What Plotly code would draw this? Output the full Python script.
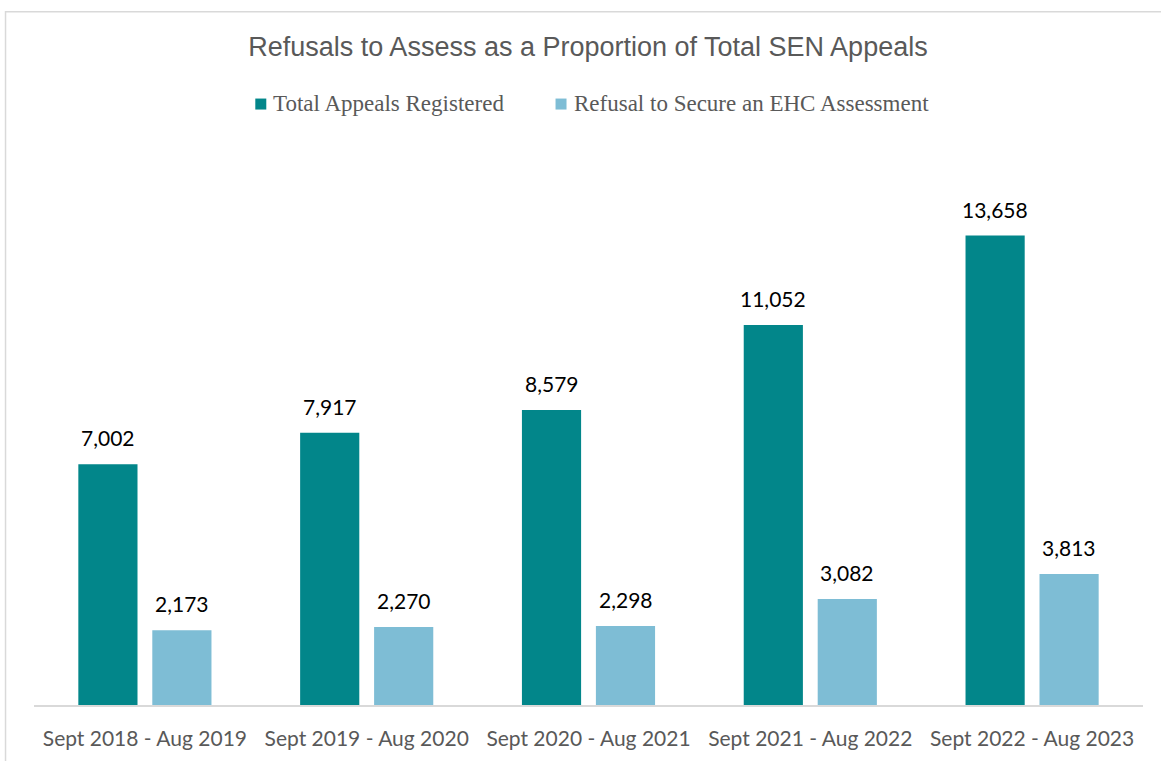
import plotly.graph_objects as go

categories = ["Sept 2018 - Aug 2019", "Sept 2019 - Aug 2020", "Sept 2020 - Aug 2021",
              "Sept 2021 - Aug 2022", "Sept 2022 - Aug 2023"]
total_appeals = [7002, 7917, 8579, 11052, 13658]
refusals = [2173, 2270, 2298, 3082, 3813]

series_names = ["Total Appeals Registered", "Refusal to Secure an EHC Assessment"]
colors = ["#02868A", "#7EBDD5"]

W, H = 1161, 761
L, R, T, B = 33.5, 17.5, 154.5, 56
pw = W - L - R
ph = H - T - B


def px_x(p):
    return (p - L) / pw


def px_y(p):
    return (H - B - p) / ph


fig = go.Figure()
for name, vals, col in zip(series_names, [total_appeals, refusals], colors):
    fig.add_trace(go.Bar(x=categories, y=vals, name=name, showlegend=False,
                         marker=dict(color=col, line=dict(width=0))))

# data labels
label_font = dict(family="Lato", size=21, color="#000000")
for shift, vals in zip([-37, 37], [total_appeals, refusals]):
    for c, v in zip(categories, vals):
        fig.add_annotation(x=c, y=v, xref="x", yref="y", text=f"{v:,}", showarrow=False,
                           xanchor="center", yanchor="bottom", xshift=shift, yshift=12,
                           font=label_font)

# legend (square swatch + serif text)
legend_font = dict(family="Liberation Serif", size=23, color="#595959")
for name, col, sq_left in zip(series_names, colors, [255, 555.5]):
    fig.add_shape(type="rect", xref="paper", yref="paper",
                  x0=px_x(sq_left), x1=px_x(sq_left + 11),
                  y0=px_y(109), y1=px_y(98),
                  line=dict(width=0), fillcolor=col)
    fig.add_annotation(xref="paper", yref="paper", x=px_x(sq_left + 16), y=px_y(103),
                       text=name, showarrow=False, xanchor="left", yanchor="middle",
                       font=legend_font)

# chart border
fig.add_shape(type="rect", xref="paper", yref="paper",
              x0=px_x(5), x1=px_x(W + 10),
              y0=px_y(H + 10), y1=px_y(11),
              line=dict(color="#d9d9d9", width=1.5), fillcolor="rgba(0,0,0,0)", layer="below")

fig.update_layout(
    width=W, height=H,
    margin=dict(l=L, r=R, t=T, b=B, pad=0),
    paper_bgcolor="white", plot_bgcolor="white",
    barmode="group", bargap=0.333, bargroupgap=0.2,
    title=dict(text="Refusals to Assess as a Proportion of Total SEN Appeals",
               x=588 / W, xref="container", xanchor="center",
               y=1 - 47 / H, yref="container", yanchor="middle",
               font=dict(family="Liberation Sans", size=27, color="#595959")),
    showlegend=False,
    xaxis=dict(showline=True, linecolor="#d9d9d9", linewidth=1.5, ticks="",
               ticklabelstandoff=14,
               tickfont=dict(family="Lato", size=21, color="#595959"), showgrid=False),
    yaxis=dict(range=[0, 16000], visible=False, showgrid=False, zeroline=False),
)

fig.write_html("out.html")
